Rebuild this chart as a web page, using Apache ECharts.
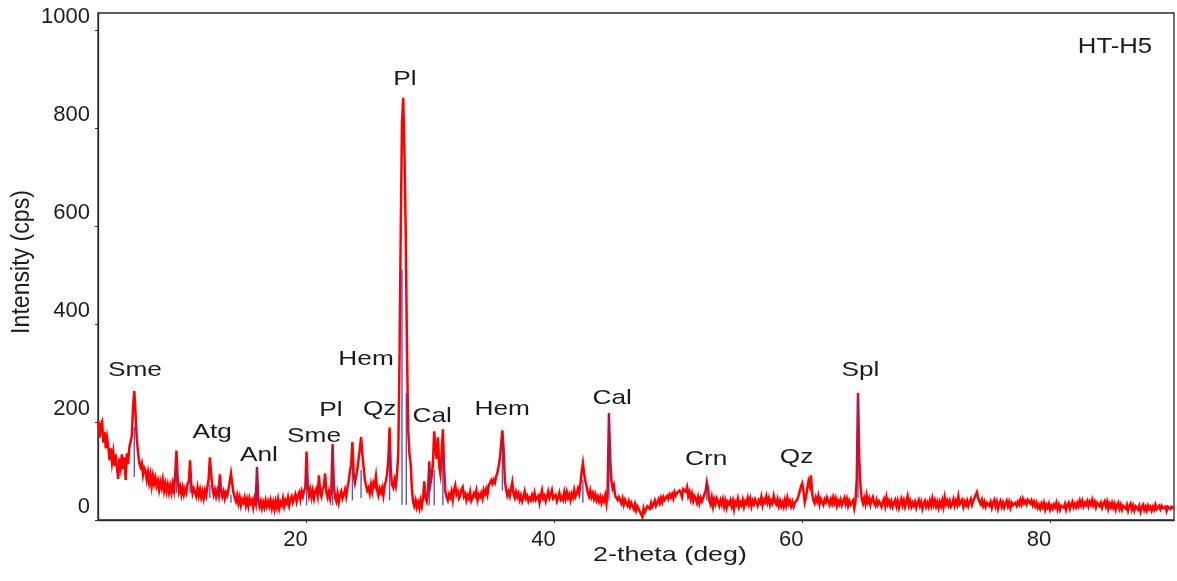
<!DOCTYPE html>
<html>
<head>
<meta charset="utf-8">
<title>HT-H5 XRD pattern</title>
<script src="https://cdn.jsdelivr.net/npm/echarts@6/dist/echarts.min.js"></script>
<style>
  html, body { margin: 0; padding: 0; background: #ffffff; }
  #chart { width: 1177px; height: 581px; }
</style>
</head>
<body>
<div id="chart"></div>
<script>
// Powder scan: 2-theta from 3.2 deg in 0.1 deg steps, intensity in cps
const scanStart = 3.2;
const scanStep = 0.1;
const intensity = [
  203,168,195,201,158,180,146,168,                 // 3.2 - 3.9
  150,122,146,118,138,110,134,106,84,126,          // 4
  108,134,104,128,82,136,114,148,150,172,          // 5
  231,263,216,165,138,116,108,116,92,106,          // 6
  100,82,97,76,92,70,90,74,86,70,                  // 7
  80,62,78,66,82,60,74,58,72,56,                   // 8
  70,56,74,60,92,142,84,58,68,52,                  // 9
  66,52,64,56,74,79,122,70,54,64,                  // 10
  60,48,66,50,62,46,58,44,60,50,                   // 11
  68,84,128,94,66,52,62,48,60,50,                  // 12
  93,60,48,58,44,56,50,62,79,95,                   // 13
  74,56,46,38,50,34,46,30,42,36,                   // 14
  46,30,42,28,44,34,40,26,44,34,                   // 15
  108,42,28,38,24,36,26,40,28,38,                  // 16
  28,40,24,36,22,38,26,42,24,36,                   // 17
  30,44,28,40,34,46,30,42,48,36,                   // 18
  44,52,38,50,56,42,58,48,60,66,                   // 19
  140,70,50,62,46,60,44,58,64,50,                  // 20
  91,56,48,64,69,95,56,46,58,44,                   // 21
  64,155,70,46,38,54,36,50,58,44,                  // 22
  52,62,48,66,79,99,114,159,94,76,                 // 23
  89,104,124,145,169,135,109,84,70,60,             // 24
  66,54,72,58,76,70,89,60,50,64,                   // 25
  56,66,50,70,79,94,124,189,99,72,                 // 26
  66,82,70,94,135,327,589,811,862,750,             // 27
  589,357,185,135,115,64,36,28,40,26,              // 28
  36,24,40,28,44,79,46,38,56,120,                  // 29
  74,89,115,181,145,125,169,110,94,135,            // 30
  185,104,58,47,40,52,46,58,41,62,                 // 31
  71,52,58,44,50,62,67,48,53,40,                   // 32
  50,44,57,39,45,54,49,60,41,52,                   // 33
  47,55,44,61,53,63,52,70,74,81,                   // 34
  74,82,76,89,96,110,125,155,183,145,              // 35
  81,62,50,58,49,64,77,53,45,57,                   // 36
  47,54,41,50,38,46,58,44,49,38,                   // 37
  45,40,51,43,55,41,37,49,35,50,                   // 38
  61,44,49,38,47,58,45,52,61,44,                   // 39
  40,51,38,45,55,42,47,41,57,44,                   // 40
  57,45,52,40,53,46,61,48,55,64,                   // 41
  54,74,99,116,94,79,81,56,48,60,                  // 42
  47,55,43,52,40,48,38,47,35,45,                   // 43
  38,50,34,64,218,125,79,64,71,50,                 // 44
  51,41,47,45,34,44,31,41,34,29,                   // 45
  38,27,35,31,22,32,19,28,24,17,                   // 46
  17,6,24,16,20,28,32,23,35,27,                    // 47
  33,40,29,35,42,34,45,36,47,41,                   // 48
  40,49,43,52,46,53,44,57,50,55,                   // 49
  51,60,55,47,63,66,58,67,49,57,                   // 50
  43,54,39,49,44,35,47,34,45,38,                   // 51
  36,52,59,77,64,40,32,46,28,42,                   // 52
  33,44,38,29,40,31,42,27,39,25,                   // 53
  37,32,40,28,39,22,37,31,43,27,                   // 54
  36,30,41,27,38,33,45,32,43,28,                   // 55
  39,32,42,36,29,40,35,47,30,41,                   // 56
  36,48,35,44,31,40,34,49,37,32,                   // 57
  42,29,39,28,36,27,41,30,45,33,                   // 58
  39,28,37,27,35,32,42,49,59,69,                   // 59
  75,59,36,46,64,79,69,91,54,40,                   // 60
  34,46,38,49,32,43,37,31,42,36,                   // 61
  46,39,31,42,33,46,35,44,29,39,                   // 62
  32,41,30,38,45,33,43,29,39,31,                   // 63
  28,40,24,39,84,259,128,69,44,34,                 // 64
  45,33,50,36,44,31,42,47,34,29,                   // 65
  41,31,38,33,27,37,43,29,46,32,                   // 66
  39,29,38,27,35,41,28,39,25,35,                   // 67
  43,30,40,27,37,48,30,39,27,35,                   // 68
  29,37,25,35,41,29,37,23,33,39,                   // 69
  27,35,27,39,29,44,31,40,28,37,                   // 70
  25,37,28,40,27,46,32,39,30,39,                   // 71
  27,32,42,29,39,31,48,32,28,41,                   // 72
  27,37,30,39,28,36,43,31,39,45,                   // 73
  44,57,45,37,32,41,29,37,27,35,                   // 74
  32,29,37,25,35,41,28,37,23,33,                   // 75
  39,27,35,25,33,39,28,37,25,35,                   // 76
  30,27,35,29,37,31,41,32,43,34,                   // 77
  39,32,41,43,34,40,30,37,28,35,                   // 78
  25,31,23,33,26,35,21,31,25,33,                   // 79
  21,29,23,31,26,35,22,31,21,29,                   // 80
  33,25,33,21,30,35,23,31,37,26,                   // 81
  33,26,35,28,39,30,39,28,35,30,                   // 82
  38,28,37,31,41,30,37,26,35,39,                   // 83
  28,35,25,33,38,28,37,23,33,26,                   // 84
  35,25,33,21,30,35,23,31,21,29,                   // 85
  33,23,31,19,28,33,21,29,19,28,                   // 86
  31,21,29,17,26,31,20,27,19,29,                   // 87
  22,27,19,27,21,31,22,20,29,22,                   // 88
  29,24,20,27,18,27,29,22,27,31,                   // 89
  23                                               // 90
];

// Reference pattern sticks: position (deg) and the span each one covers (cps)
const stickDeg  = [6.1, 9.5, 10.6, 12.2, 13.0, 13.9, 16.0, 20.0, 22.1, 23.7, 24.4, 26.7, 27.7, 28.05, 29.9, 30.3, 31.0, 35.8, 42.3, 44.4, 52.3, 64.5];
const stickLow  = [88, 55, 55, 45, 45, 35, 30, 30, 30, 40, 45, 40, 31, 31, 30, 30, 30, 60, 35, 40, 40, 45];
const stickHigh = [190, 108, 82, 72, 72, 51, 108, 102, 149, 108, 102, 149, 511, 259, 108, 102, 129, 170, 82, 219, 76, 251];

// Phase labels and where they sit (deg, cps)
const peakLabelText = ['Sme', 'Atg', 'Anl', 'Sme', 'Pl', 'Hem', 'Qz', 'Pl', 'Cal', 'Hem', 'Cal', 'Crn', 'Qz', 'Spl'];
const peakLabelDeg  = [6.15, 12.38, 16.16, 20.6, 21.96, 24.8, 25.9, 27.93, 30.14, 35.79, 44.66, 52.24, 59.54, 64.7];
const peakLabelCps  = [306, 180, 133, 172, 225, 328, 227, 899, 212, 227, 248, 125, 128, 306];

const xTickValues = [20, 40, 60, 80];
const yTickValues = [0, 200, 400, 600, 800, 1000];

const FONT = '"Liberation Sans", Arial, Helvetica, sans-serif';
const INK = '#1c1c1c';

const scanData = intensity.map(function (v, i) {
  return [Math.round((scanStart + i * scanStep) * 100) / 100, v];
});
const stickData = stickDeg.map(function (d, i) { return [d, stickLow[i], stickHigh[i]]; });
const labelData = peakLabelDeg.map(function (d, i) { return [d, peakLabelCps[i]]; });

const chart = echarts.init(document.getElementById('chart'), null, { renderer: 'canvas' });

chart.setOption({
  animation: false,
  backgroundColor: '#ffffff',
  grid: {
    left: 98, right: 3, top: 13, bottom: 61,
    show: true, borderColor: '#2a2a2a', borderWidth: 1.3
  },
  xAxis: {
    type: 'value',
    min: 3.17,
    max: 90,
    axisLine: { show: true, onZero: false, lineStyle: { color: '#2a2a2a', width: 1.3 } },
    axisTick: { show: true, customValues: xTickValues, length: 3, lineStyle: { color: '#2a2a2a' } },
    axisLabel: {
      customValues: xTickValues,
      formatter: function (v) { return String(v); },
      fontFamily: FONT, fontSize: 22, color: INK,
      margin: 9, padding: [0, 22, 0, 0]
    },
    splitLine: { show: false }
  },
  yAxis: {
    type: 'value',
    min: 0,
    max: 1035,
    axisLine: { show: true, lineStyle: { color: '#2a2a2a', width: 1.3 } },
    axisTick: { show: true, customValues: yTickValues, length: 3, lineStyle: { color: '#2a2a2a' } },
    axisLabel: {
      customValues: yTickValues,
      formatter: function (v) { return String(v); },
      fontFamily: FONT, fontSize: 22, color: INK,
      margin: 8, verticalAlign: 'bottom', lineHeight: 22, padding: [0, 0, 2, 0]
    },
    splitLine: { show: false }
  },
  series: [
    {
      name: 'HT-H5',
      type: 'line',
      data: scanData,
      showSymbol: false,
      symbol: 'none',
      sampling: 'none',
      silent: true,
      z: 2,
      lineStyle: { color: '#ff0000', width: 2.5, join: 'miter' }
    },
    {
      name: 'sticks',
      type: 'custom',
      data: stickData,
      encode: { x: 0, y: [1, 2] },
      silent: true,
      z: 3,
      renderItem: function (params, api) {
        const lo = api.coord([api.value(0), api.value(1)]);
        const hi = api.coord([api.value(0), api.value(2)]);
        return {
          type: 'line',
          shape: { x1: lo[0], y1: lo[1], x2: hi[0], y2: hi[1] },
          style: { stroke: '#4a32b0', lineWidth: 1.4, opacity: 0.85 }
        };
      }
    },
    {
      name: 'phases',
      type: 'custom',
      data: labelData,
      encode: { x: 0, y: 1 },
      silent: true,
      clip: false,
      z: 4,
      renderItem: function (params, api) {
        const p = api.coord([api.value(0), api.value(1)]);
        return {
          type: 'text',
          x: p[0], y: p[1],
          scaleX: 1.25,
          style: {
            text: peakLabelText[params.dataIndex],
            font: '21px ' + FONT,
            fill: INK,
            align: 'center',
            verticalAlign: 'middle'
          }
        };
      }
    }
  ],
  graphic: [
    {
      type: 'text', x: 1115, y: 47, scaleX: 1.17,
      style: { text: 'HT-H5', font: '22px ' + FONT, fill: INK, align: 'center', verticalAlign: 'middle' }
    },
    {
      type: 'text', x: 670, y: 555, scaleX: 1.28,
      style: { text: '2-theta (deg)', font: '21px ' + FONT, fill: INK, align: 'center', verticalAlign: 'middle' }
    },
    {
      type: 'text', x: 22, y: 262, rotation: Math.PI / 2, scaleX: 1.1, scaleY: 1.2,
      style: { text: 'Intensity (cps)', font: '21px ' + FONT, fill: INK, align: 'center', verticalAlign: 'middle' }
    }
  ]
});
</script>
</body>
</html>
